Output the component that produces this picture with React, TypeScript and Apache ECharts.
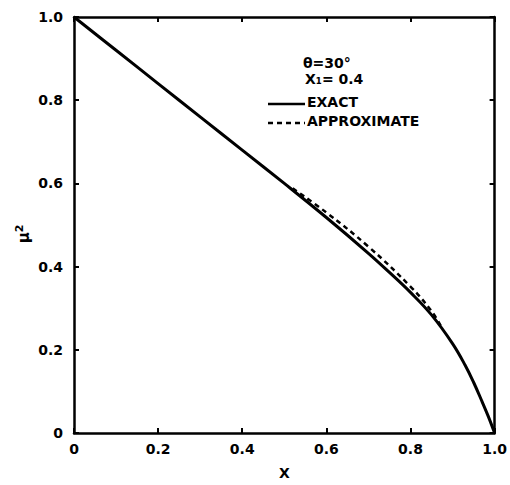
import React, { useEffect, useRef } from "react";
import * as echarts from "echarts";

const exactX = [0, 0.1, 0.2, 0.3, 0.4, 0.5, 0.6, 0.7, 0.75, 0.8, 0.85, 0.9, 0.93, 0.95, 0.97, 0.985, 1.0];
const exactY = [1.0, 0.92, 0.84, 0.76, 0.68, 0.6, 0.518, 0.432, 0.386, 0.338, 0.284, 0.215, 0.163, 0.122, 0.076, 0.04, 0];
const approxX = [0.52, 0.6, 0.7, 0.8, 0.85, 0.872];
const approxY = [0.588, 0.53, 0.448, 0.352, 0.293, 0.258];
const xTicks = ["0", "0.2", "0.4", "0.6", "0.8", "1.0"];
const yTicks = ["0", "0.2", "0.4", "0.6", "0.8", "1.0"];

const FONT = "DejaVu Sans";

export default function App() {
  const ref = useRef<HTMLDivElement>(null);
  useEffect(() => {
    const chart = echarts.init(ref.current!, undefined, { renderer: "svg" });
    const axisCommon = {
      type: "value" as const,
      min: 0,
      max: 1,
      interval: 0.2,
      axisLine: { show: true, onZero: false, lineStyle: { color: "#000", width: 2.5 } },
      axisTick: { show: true, inside: true, length: 5, lineStyle: { color: "#000", width: 2 } },
      splitLine: { show: false },
    };
    const labelStyle = {
      color: "#000",
      fontFamily: FONT,
      fontWeight: "bold" as const,
      fontSize: 14,
    };
    chart.setOption({
      animation: false,
      backgroundColor: "#fff",
      grid: { left: 74, right: 13, top: 17, bottom: 50 },
      xAxis: [
        {
          ...axisCommon,
          position: "bottom",
          axisLabel: { ...labelStyle, margin: 9, formatter: (v: number) => xTicks[Math.round(v * 5)] },
          name: "X",
          nameLocation: "middle",
          nameGap: 33,
          nameTextStyle: labelStyle,
        },
        { ...axisCommon, position: "top", axisLabel: { show: false } },
      ],
      yAxis: [
        {
          ...axisCommon,
          position: "left",
          axisLabel: { ...labelStyle, margin: 11, formatter: (v: number) => yTicks[Math.round(v * 5)] },
        },
        { ...axisCommon, position: "right", axisLabel: { show: false } },
      ],
      series: [
        {
          type: "line",
          name: "EXACT",
          data: exactX.map((x, i) => [x, exactY[i]]),
          smooth: 0.4,
          showSymbol: false,
          lineStyle: { color: "#000", width: 3 },
        },
        {
          type: "line",
          name: "APPROXIMATE",
          data: approxX.map((x, i) => [x, approxY[i]]),
          smooth: 0.4,
          showSymbol: false,
          lineStyle: { color: "#000", width: 2.5, type: [5, 4] },
        },
      ],
      graphic: [
        {
          type: "text",
          x: 24,
          y: 234,
          rotation: Math.PI / 2,
          style: {
            text: "{m|μ}{s|2}",
            align: "center",
            verticalAlign: "middle",
            fill: "#000",
            rich: {
              m: { fontFamily: FONT, fontWeight: "bold", fontSize: 15, fill: "#000" },
              s: { fontFamily: FONT, fontWeight: "bold", fontSize: 11, fill: "#000", padding: [0, 0, 9, 0] },
            },
          },
        },
        {
          type: "text",
          left: 303,
          top: 56,
          style: { text: "θ=30°", font: `bold 14px "${FONT}"`, fill: "#000" },
        },
        {
          type: "text",
          left: 305,
          top: 72,
          style: { text: "X₁= 0.4", font: `bold 14px "${FONT}"`, fill: "#000" },
        },
        {
          type: "line",
          shape: { x1: 268, y1: 104, x2: 305, y2: 104 },
          style: { stroke: "#000", lineWidth: 2.5 },
        },
        {
          type: "text",
          left: 307,
          top: 95,
          style: { text: "EXACT", font: `bold 14px "${FONT}"`, fill: "#000" },
        },
        {
          type: "line",
          shape: { x1: 268, y1: 123, x2: 305, y2: 123 },
          style: { stroke: "#000", lineWidth: 2.5, lineDash: [5, 4] },
        },
        {
          type: "text",
          left: 307,
          top: 114,
          style: { text: "APPROXIMATE", font: `bold 14px "${FONT}"`, fill: "#000" },
        },
      ],
    });
    return () => chart.dispose();
  }, []);
  return <div ref={ref} style={{ width: 510, height: 485, position: "absolute", left: 0, top: 0 }} />;
}
